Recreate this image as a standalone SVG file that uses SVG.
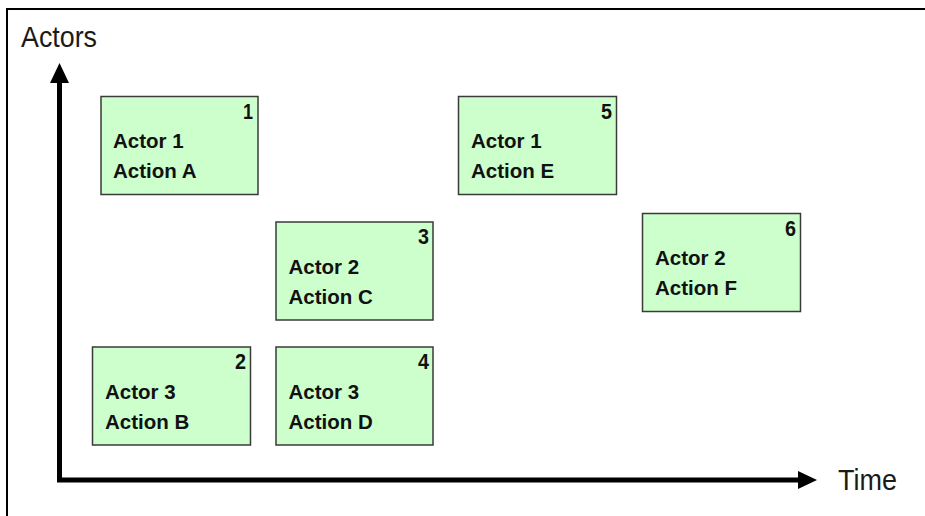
<svg xmlns="http://www.w3.org/2000/svg" width="925" height="516" viewBox="0 0 925 516">
  <style>
    .box { fill: #ccffcc; stroke: #3a3a3a; stroke-width: 1.5; }
    .lbl { font-family: "Liberation Sans", Arial, sans-serif; font-weight: bold; font-size: 20.5px; fill: #111; }
    .num { font-family: "Liberation Sans", Arial, sans-serif; font-weight: bold; font-size: 22px; fill: #111; text-anchor: end; }
    .axis-title { font-family: "Liberation Sans", Arial, sans-serif; font-size: 30px; fill: #1a1a1a; }
    .axis { stroke: #000; stroke-width: 5; fill: none; }
    .frame { stroke: #000; stroke-width: 2; fill: none; }
  </style>

  <rect width="925" height="516" fill="#ffffff"/>

  <!-- outer frame: top and left edges -->
  <path class="frame" d="M7 516 V9 H925"/>

  <!-- axes -->
  <g id="axes">
    <path class="axis" d="M59.5 80 V480 H801"/>
    <polygon points="59.5,63 50,83 69,83" fill="#000"/>
    <polygon points="817,480 798,471 798,489" fill="#000"/>
    <text class="axis-title" x="21" y="47" textLength="76" lengthAdjust="spacingAndGlyphs">Actors</text>
    <text class="axis-title" x="838" y="490" textLength="59" lengthAdjust="spacingAndGlyphs">Time</text>
  </g>

  <g id="step1">
    <rect class="box" x="101" y="96.5" width="157" height="98"/>
    <text class="num" x="253" y="119" textLength="10" lengthAdjust="spacingAndGlyphs">1</text>
    <text class="lbl" x="113" y="148">Actor 1</text>
    <text class="lbl" x="113" y="178">Action A</text>
  </g>

  <g id="step2">
    <rect class="box" x="92.5" y="347" width="158" height="98"/>
    <text class="num" x="246" y="369" textLength="11" lengthAdjust="spacingAndGlyphs">2</text>
    <text class="lbl" x="105" y="399">Actor 3</text>
    <text class="lbl" x="105" y="429">Action B</text>
  </g>

  <g id="step3">
    <rect class="box" x="276" y="222" width="157" height="98"/>
    <text class="num" x="429" y="244" textLength="11" lengthAdjust="spacingAndGlyphs">3</text>
    <text class="lbl" x="288.5" y="274">Actor 2</text>
    <text class="lbl" x="288.5" y="304">Action C</text>
  </g>

  <g id="step4">
    <rect class="box" x="276" y="347" width="157" height="98"/>
    <text class="num" x="429" y="369" textLength="11" lengthAdjust="spacingAndGlyphs">4</text>
    <text class="lbl" x="288.5" y="399">Actor 3</text>
    <text class="lbl" x="288.5" y="429">Action D</text>
  </g>

  <g id="step5">
    <rect class="box" x="458.5" y="96.5" width="158" height="98"/>
    <text class="num" x="612" y="119" textLength="11" lengthAdjust="spacingAndGlyphs">5</text>
    <text class="lbl" x="471" y="148">Actor 1</text>
    <text class="lbl" x="471" y="178">Action E</text>
  </g>

  <g id="step6">
    <rect class="box" x="642.5" y="213.5" width="158" height="98"/>
    <text class="num" x="796" y="236" textLength="11" lengthAdjust="spacingAndGlyphs">6</text>
    <text class="lbl" x="655" y="265">Actor 2</text>
    <text class="lbl" x="655" y="295">Action F</text>
  </g>
</svg>
